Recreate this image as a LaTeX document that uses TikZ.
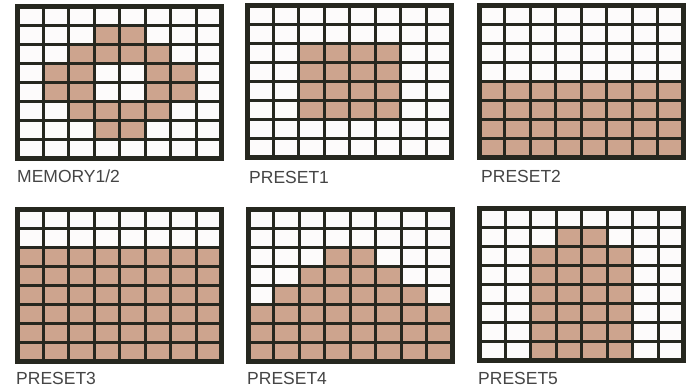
\documentclass[tikz,border=0pt]{standalone}
\usepackage{fontspec}
\setmainfont{Liberation Sans}
\definecolor{tanfill}{HTML}{CDA48E}
\definecolor{framecol}{HTML}{26271F}
\definecolor{cellw}{HTML}{FDFBFB}
\definecolor{lblcol}{HTML}{454545}
\tikzset{
  gridline/.style={draw=framecol,line width=3pt},
  framebox/.style={draw=framecol,line width=5pt},
  lbl/.style={text=lblcol,font=\fontsize{17.5}{19}\selectfont,inner sep=0pt,anchor=base west},
}
\newcommand\drawgrid[3]{%
  \begin{scope}[shift={(#1,#2)}]
    \fill[cellw] (0,0) rectangle (204,152);
    \foreach \ca/\ra/\cb/\rb in {#3} {
      \fill[tanfill] ({(\ca-1)*25.5},{(\ra-1)*19}) rectangle ({\cb*25.5},{\rb*19});
    }
    \foreach \i in {1,...,7} {
      \draw[gridline] ({\i*25.5},0) -- ({\i*25.5},152);
      \draw[gridline] (0,{\i*19}) -- (204,{\i*19});
    }
    \draw[framebox] (0,0) rectangle (204,152);
  \end{scope}}
\begin{document}
\begin{tikzpicture}[x=1pt,y=-1pt]
  \useasboundingbox (0,0) rectangle (693,387);
  \fill[white] (0,0) rectangle (693,387);
  \drawgrid{17.5}{6.5}{4/2/5/2,3/3/6/3,2/4/3/5,6/4/7/5,3/6/6/6,4/7/5/7}
  \drawgrid{247.5}{6}{3/3/6/6}
  \drawgrid{479}{5.5}{1/5/8/8}
  \drawgrid{17.5}{209.5}{1/3/8/8}
  \drawgrid{248}{209.5}{4/3/5/3,3/4/6/4,2/5/7/5,1/6/8/8}
  \drawgrid{479.5}{208.5}{4/2/5/2,3/3/6/8}
  \node[lbl] (l1) at (17,183) {MEMORY1/2};
  \node[lbl] (l2) at (249,184) {PRESET1};
  \node[lbl] (l3) at (481,183) {PRESET2};
  \node[lbl] (l4) at (16,384.5) {PRESET3};
  \node[lbl] (l5) at (247,384.5) {PRESET4};
  \node[lbl] (l6) at (478,384) {PRESET5};
\end{tikzpicture}
\end{document}
